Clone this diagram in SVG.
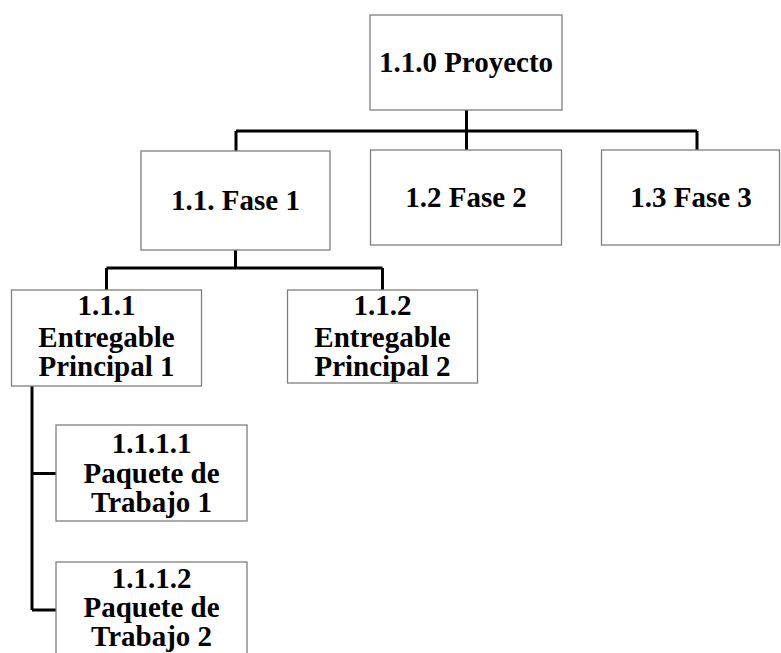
<svg xmlns="http://www.w3.org/2000/svg" width="781" height="653" viewBox="0 0 781 653">
<style>
.box{fill:#fff;stroke:#7f7f7f;stroke-width:1.3}
.t{font-family:"Liberation Serif","Times New Roman",serif;font-weight:bold;font-size:29px;fill:#000;text-anchor:middle}
.c{fill:none;stroke:#000;stroke-width:3}
</style>
<rect width="781" height="653" fill="#fff"/>
<g id="connectors">
<path class="c" d="M466.5 110V150M236 131H697M236 131V151M697 131V150M235.5 250V268M106.5 268H382.5M106.5 268V290M382.5 268V290M32 386V610M32 473.5H56M32 610H56"/>
</g>
<g id="n110"><rect class="box" x="370" y="15" width="192" height="95"/><text class="t" x="466" y="72">1.1.0 Proyecto</text></g>
<g id="n11"><rect class="box" x="141" y="151" width="189" height="99"/><text class="t" x="235.5" y="210">1.1. Fase 1</text></g>
<g id="n12"><rect class="box" x="370.5" y="150" width="191" height="95"/><text class="t" x="466" y="207">1.2 Fase 2</text></g>
<g id="n13"><rect class="box" x="601.5" y="150" width="178" height="95"/><text class="t" x="691" y="207">1.3 Fase 3</text></g>
<g id="n111"><rect class="box" x="11.5" y="290" width="190" height="96"/><text class="t" x="106.5" y="315">1.1.1</text><text class="t" x="106.5" y="347">Entregable</text><text class="t" x="106.5" y="376">Principal 1</text></g>
<g id="n112"><rect class="box" x="287.5" y="290" width="190" height="93"/><text class="t" x="382.5" y="315">1.1.2</text><text class="t" x="382.5" y="347">Entregable</text><text class="t" x="382.5" y="376">Principal 2</text></g>
<g id="n1111"><rect class="box" x="56" y="425" width="191" height="96"/><text class="t" x="151.5" y="453">1.1.1.1</text><text class="t" x="151.5" y="483">Paquete de</text><text class="t" x="151.5" y="512">Trabajo 1</text></g>
<g id="n1112"><rect class="box" x="56" y="562" width="191" height="100"/><text class="t" x="151.5" y="588">1.1.1.2</text><text class="t" x="151.5" y="617">Paquete de</text><text class="t" x="151.5" y="646">Trabajo 2</text></g>
</svg>
